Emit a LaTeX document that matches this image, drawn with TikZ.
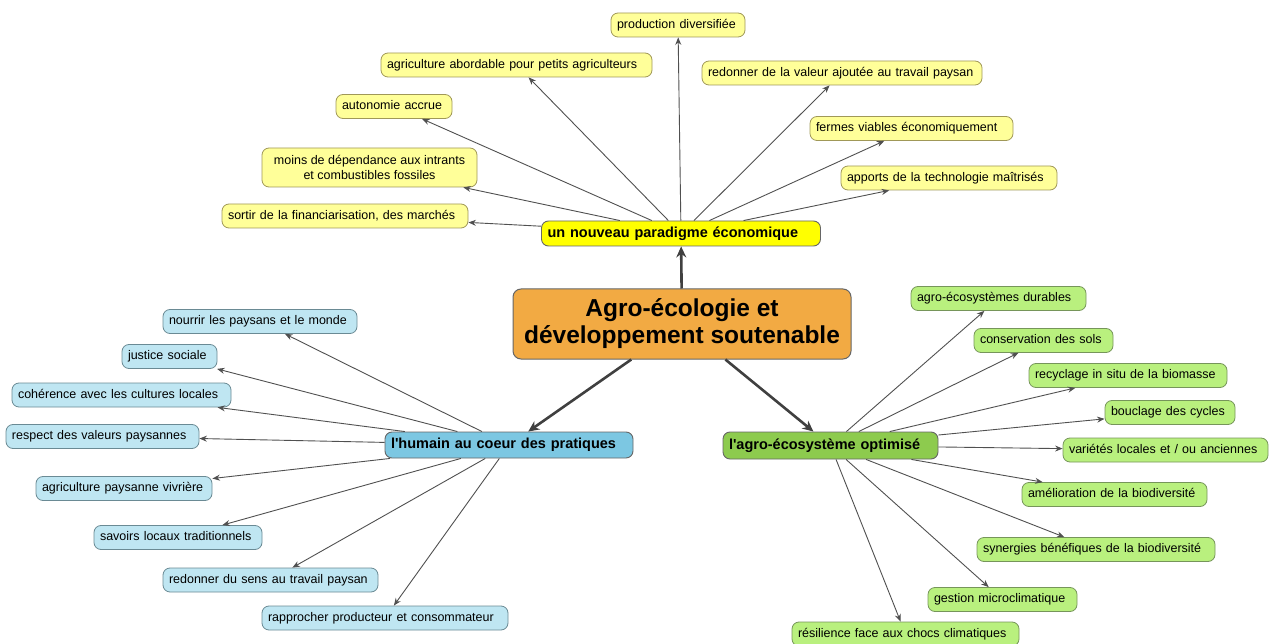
\documentclass[tikz,border=0pt]{standalone}
\usepackage{fontspec}
\setmainfont{Liberation Sans}
\usetikzlibrary{arrows.meta}
\definecolor{ylf}{HTML}{FFFF99}
\definecolor{yld}{HTML}{A09858}
\definecolor{ymf}{HTML}{FFFF00}
\definecolor{blf}{HTML}{BFE6F2}
\definecolor{bld}{HTML}{6A8A94}
\definecolor{bmf}{HTML}{7CC7E2}
\definecolor{glf}{HTML}{B9F07E}
\definecolor{gld}{HTML}{76955A}
\definecolor{gmf}{HTML}{8DCB4E}
\definecolor{orf}{HTML}{F2AA43}
\definecolor{ord}{HTML}{666666}
\definecolor{arrg}{HTML}{505050}
\definecolor{arrd}{HTML}{404040}
\newcommand\leaffont{\fontsize{12.5}{14.5}\selectfont}
\newcommand\mainfont{\bfseries\fontsize{14.5}{16}\selectfont}
\newcommand\centerfont{\bfseries\fontsize{24.5}{27}\selectfont}
\begin{document}
\begin{tikzpicture}[x=1pt,y=-1pt,
  box/.style={rounded corners=7pt, inner sep=0pt, line width=0.8pt, align=center},
  lw/.style={text width=#1, align=left, inner xsep=6pt},
  leaf/.style={box, minimum height=24pt, font=\leaffont, text height=9pt, text depth=2.6pt},
  yleaf/.style={leaf, fill=ylf, draw=yld},
  bleaf/.style={leaf, fill=blf, draw=bld},
  gleaf/.style={leaf, fill=glf, draw=gld},
  mainbox/.style={box, font=\mainfont, draw=ord, line width=0.9pt, text height=10.5pt, text depth=3pt},
  conn/.style={draw=arrg, line width=0.9pt, -{Stealth[length=7.5pt,width=6pt]}},
  mconn/.style={draw=arrd, line width=2.6pt, -{Stealth[length=11pt,width=10pt]}}]
\useasboundingbox (0,0) rectangle (1269,644);
% centre
\node[box, fill=orf, draw=ord, line width=1pt, rounded corners=8pt, font=\centerfont,
  minimum width=338pt, minimum height=70pt] (C) at (682,324) {Agro-écologie et\\développement soutenable};
% main nodes
\node[mainbox, fill=ymf, lw=267pt, minimum height=25pt] (Y) at (681,233.5) {un nouveau paradigme économique};
\node[mainbox, fill=bmf, lw=236pt, minimum height=26pt] (B) at (509,445) {l\textquotesingle humain au coeur des pratiques};
\node[mainbox, fill=gmf, lw=203pt, minimum height=27pt] (G) at (830.5,445.5) {l\textquotesingle agro-écosystème optimisé};
% yellow leaves
\node[yleaf, lw=122pt] (y1) at (678,25) {production diversifiée};
\node[yleaf, lw=259pt] (y2) at (516.5,65) {agriculture abordable pour petits agriculteurs};
\node[yleaf, lw=104pt] (y3) at (394,106.5) {autonomie accrue};
\node[box, fill=ylf, draw=yld, font=\leaffont, minimum width=215pt, minimum height=39pt] (y4) at (369.5,167.5) {moins de dépendance aux intrants\\et combustibles fossiles};
\node[yleaf, lw=234pt] (y5) at (345,216) {sortir de la financiarisation, des marchés};
\node[yleaf, lw=268pt] (y6) at (842,73) {redonner de la valeur ajoutée au travail paysan};
\node[yleaf, lw=191pt] (y7) at (911.5,128.5) {fermes viables économiquement};
\node[yleaf, lw=204pt] (y8) at (949,178) {apports de la technologie maîtrisés};
% blue leaves
\node[bleaf, lw=182pt] (b1) at (260,321.5) {nourrir les paysans et le monde};
\node[bleaf, lw=83pt] (b2) at (169.5,356.5) {justice sociale};
\node[bleaf, lw=207pt] (b3) at (121.5,395) {cohérence avec les cultures locales};
\node[bleaf, lw=181pt] (b4) at (102.5,436.5) {respect des valeurs paysannes};
\node[bleaf, lw=164pt] (b5) at (124,488.5) {agriculture paysanne vivrière};
\node[bleaf, lw=156pt] (b6) at (178,537.5) {savoirs locaux traditionnels};
\node[bleaf, lw=203pt] (b7) at (270.5,580) {redonner du sens au travail paysan};
\node[bleaf, lw=234pt] (b8) at (385,618) {rapprocher producteur et consommateur};
% green leaves
\node[gleaf, lw=163pt] (g1) at (998.5,298.5) {agro-écosystèmes durables};
\node[gleaf, lw=127pt] (g2) at (1043.5,340.5) {conservation des sols};
\node[gleaf, lw=186pt] (g3) at (1128,375.5) {recyclage in situ de la biomasse};
\node[gleaf, lw=118pt] (g4) at (1170,412.5) {bouclage des cycles};
\node[gleaf, lw=193pt] (g5) at (1165.5,450) {variétés locales et / ou anciennes};
\node[gleaf, lw=173pt] (g6) at (1114.5,494.5) {amélioration de la biodiversité};
\node[gleaf, lw=226pt] (g7) at (1096,549.5) {synergies bénéfiques de la biodiversité};
\node[gleaf, lw=137pt] (g8) at (1002.5,599.5) {gestion microclimatique};
\node[gleaf, lw=215pt] (g9) at (905.5,634) {résilience face aux chocs climatiques};
% main connectors
\draw[mconn] (C) -- (Y);
\draw[mconn] (C) -- (B);
\draw[mconn] (C) -- (G);
% leaf connectors
\foreach \n in {y1,y2,y3,y4,y5,y6,y7,y8} \draw[conn] (Y) -- (\n);
\foreach \n in {b1,b2,b3,b4,b5,b6,b7,b8} \draw[conn] (B) -- (\n);
\foreach \n in {g1,g2,g3,g4,g5,g6,g7,g8,g9} \draw[conn] (G) -- (\n);
\end{tikzpicture}
\end{document}
